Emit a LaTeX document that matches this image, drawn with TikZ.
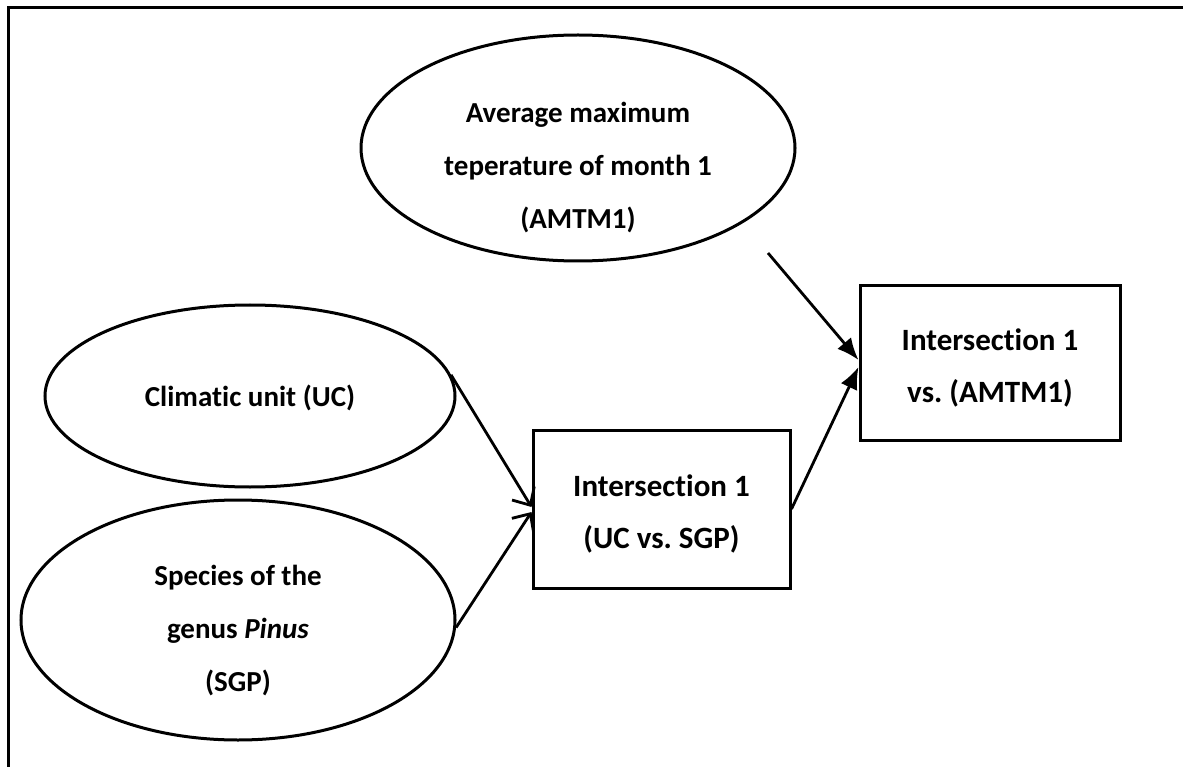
\documentclass[tikz,border=0pt]{standalone}
\usepackage{fontspec}
\setmainfont[Ligatures=NoCommon]{Carlito}
\usepackage{tikz}
\usetikzlibrary{arrows.meta}
\usetikzlibrary{shapes.geometric}

\tikzset{
  factor/.style={draw, ellipse, line width=3pt, inner sep=0pt},
  factortext/.style={align=center, inner sep=0pt,
    font=\fontsize{29}{53}\selectfont\bfseries},
  result/.style={draw, rectangle, line width=3pt, inner sep=0pt},
  resulttext/.style={align=center, inner sep=0pt,
    font=\fontsize{31}{52}\selectfont\bfseries},
  openarr/.style={line width=2.8pt, -{Straight Barb[length=14pt, width=26pt]}},
  fillarr/.style={line width=2.8pt, -{Latex[length=22pt, width=18pt]}}
}

\begin{document}
\frenchspacing
\begin{tikzpicture}[x=1pt, y=-1pt]

    \useasboundingbox (0, 0) rectangle (1183, 767);
    \draw [line width=3pt] (8.5, 767) -- (8.5, 7.5) -- (1183, 7.5);

    % input factors
    \node [factor, minimum width=434, minimum height=226] (amtm) at (578, 148) {};
    \node [factortext] (amtmtext) at ([yshift=-20pt]amtm.center)
      {Average maximum\\ teperature of month 1\\ (AMTM1)};
    \node [factor, minimum width=410, minimum height=182] (uc) at (250, 396) {};
    \node [factortext] (uctext) at ([yshift=-2pt]uc.center) {Climatic unit (UC)};
    \node [factor, minimum width=434, minimum height=240] (sgp) at (238, 620) {};
    \node [factortext] (sgptext) at ([yshift=-11pt]sgp.center)
      {Species of the\\ genus \textit{Pinus}\\ (SGP)};

    % intersections
    \node [result, minimum width=257, minimum height=158] (int1) at (661.5, 509) {};
    \node [resulttext] (int1text) at ([yshift=-5pt]int1.center)
      {Intersection 1\\ (UC vs. SGP)};
    \node [result, minimum width=260, minimum height=154] (int2) at (990, 363) {};
    \node [resulttext] (int2text) at ([yshift=-5pt]int2.center)
      {Intersection 1\\ vs. (AMTM1)};

    \coordinate (amtmout) at (768, 253);

    \draw [openarr] (uc.6) -- ([yshift=2pt]int1.west);
    \draw [openarr] (sgp.-2) -- ([yshift=-3pt]int1.west);
    \draw [fillarr] (amtmout) -- ([yshift=3pt]int2.west);
    \draw [fillarr] (int1.east) -- ([yshift=-4pt]int2.west);

  \end{tikzpicture}
\end{document}
